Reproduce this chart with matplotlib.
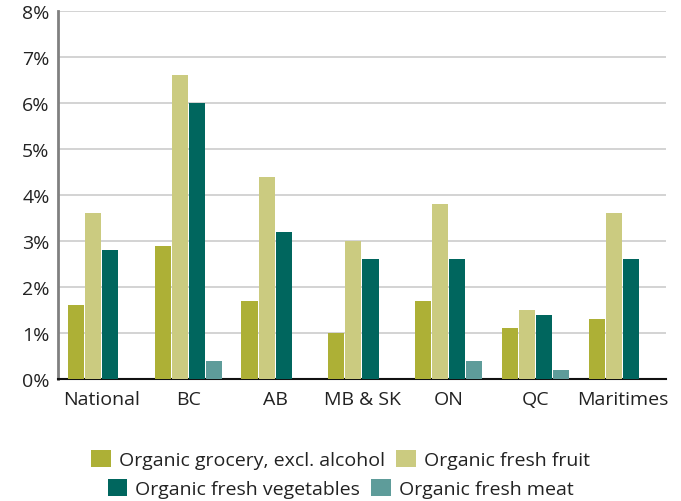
import matplotlib.pyplot as plt
import numpy as np

plt.rcParams['font.family'] = ['Open Sans', 'DejaVu Sans']

regions = ['National', 'BC', 'AB', 'MB & SK', 'ON', 'QC', 'Maritimes']
grocery = [1.6, 2.9, 1.7, 1.0, 1.7, 1.1, 1.3]
fruit = [3.6, 6.6, 4.4, 3.0, 3.8, 1.5, 3.6]
vegetables = [2.8, 6.0, 3.2, 2.6, 2.6, 1.4, 2.6]
meat = [0.0, 0.4, 0.0, 0.0, 0.4, 0.2, 0.0]
series_names = ['Organic grocery, excl. alcohol', 'Organic fresh fruit',
                'Organic fresh vegetables', 'Organic fresh meat']
yticks = [0, 1, 2, 3, 4, 5, 6, 7, 8]

colors = ['#adb036', '#cbcb80', '#00665e', '#5e9c9a']

fig = plt.figure(figsize=(6.81, 5.02), dpi=100, facecolor='w')
ax = fig.add_axes([0.085, 0.243, 0.893, 0.733])

x = np.arange(len(regions))
w = 0.185
step = 0.196
bars = []
for i, vals in enumerate([grocery, fruit, vegetables, meat]):
    b = ax.bar(x + (i - 1.5) * step, vals, width=w, color=colors[i],
               label=series_names[i], zorder=3)
    bars.append(b)

ax.set_xlim(-0.5, len(regions) - 0.5)
ax.set_ylim(0, 8)
ax.set_yticks(yticks)
ax.set_yticklabels([f'{t}%' for t in yticks])
ax.set_xticks(x)
ax.set_xticklabels(regions)
ax.tick_params(axis='both', length=0, labelsize=14, colors='#222222')
ax.tick_params(axis='x', pad=8)
ax.tick_params(axis='y', pad=6)
ax.yaxis.grid(True, color='#cccccc', linewidth=1.2, zorder=0)
ax.set_axisbelow(True)

for s in ['top', 'right']:
    ax.spines[s].set_visible(False)
ax.spines['left'].set_color('#808080')
ax.spines['left'].set_linewidth(2)
ax.spines['bottom'].set_color('#111111')
ax.spines['bottom'].set_linewidth(1.5)

leg_kw = dict(ncol=2, frameon=False, fontsize=14, handlelength=1.0,
              handleheight=1.0, handletextpad=0.4, columnspacing=0.6,
              labelcolor='#222222')
fig.legend(bars[:2], series_names[:2], loc='center',
           bbox_to_anchor=(0.5, 0.083), **leg_kw)
fig.legend(bars[2:], series_names[2:], loc='center',
           bbox_to_anchor=(0.5, 0.025), **leg_kw)

fig.savefig('out.png', dpi=100)
